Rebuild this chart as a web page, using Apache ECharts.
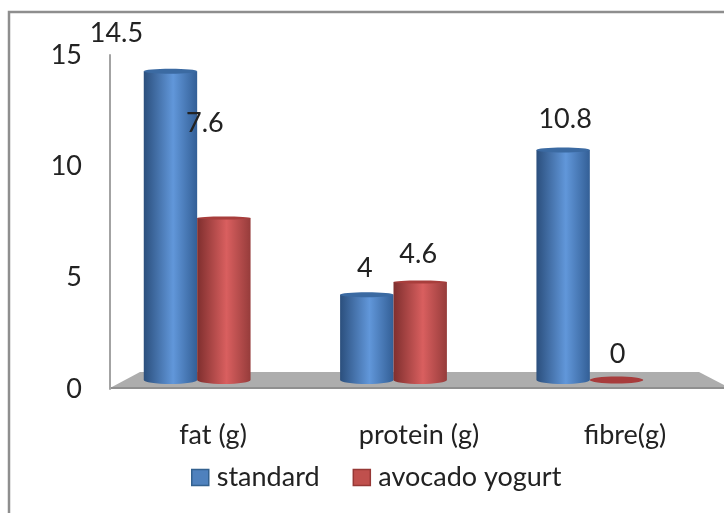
<!DOCTYPE html>
<html>
<head>
<meta charset="utf-8">
<style>html,body{margin:0;padding:0;background:#fff}#chart{width:724px;height:513px}</style>
<script src="https://cdn.jsdelivr.net/npm/echarts@6/dist/echarts.min.js"></script>
</head>
<body>
<div id="chart"></div>
<script>
var categories = ['fat (g)', 'protein (g)', 'fibre(g)'];
var yTicks = [0, 5, 10, 15];
var standard = [14.5, 4, 10.8];
var avocadoYogurt = [7.6, 4.6, 0];

// 数据标签在原图里是手动挪过的，这里只放偏移量
var standardNudge = [[-54, -38], [-2, -27], [2, -31]];
var avocadoNudge = [[-19, -95], [-2, -28], [1, -26]];

var FONT = 'Lato';
var myChart = echarts.init(document.getElementById('chart'));

function cylinder(values, side, edge, mid, edge2, cap, capRy, nudge) {
  return function (params, api) {
    var i = params.dataIndex;
    var v = values[i];
    var w = api.size([1, 0])[0] * 0.272;
    var top = api.coord([i, v]);
    var base = api.coord([i, 0]);
    var x = top[0] + side * w / 2 - w / 2;
    var children = [];
    var labelX = top[0] + side * w / 2 + nudge[i][0];
    var labelY = top[1] + nudge[i][1];
    if (v === 0) {
      children.push({
        type: 'ellipse',
        shape: {cx: x + w / 2, cy: base[1], rx: w / 2, ry: 3.5},
        style: {fill: '#a83c3c'}
      });
    } else {
      children.push({
        type: 'path',
        shape: {
          pathData: 'M0 0 L0 ' + (base[1] - top[1]) +
            ' A' + w / 2 + ' 4 0 0 0 ' + w + ' ' + (base[1] - top[1]) +
            ' L' + w + ' 0 Z',
          x: x, y: top[1], width: w, height: base[1] - top[1] + 4
        },
        style: {
          fill: new echarts.graphic.LinearGradient(0, 0, 1, 0, [
            {offset: 0, color: edge},
            {offset: 0.55, color: mid},
            {offset: 1, color: edge2}
          ])
        }
      });
      children.push({
        type: 'ellipse',
        shape: {cx: x + w / 2, cy: top[1], rx: w / 2, ry: capRy},
        style: {fill: cap}
      });
    }
    children.push({
      type: 'text',
      z2: 10,
      style: {
        x: labelX, y: labelY, text: String(v), align: 'center', verticalAlign: 'middle',
        fill: '#222', font: '27px "' + FONT + '"'
      }
    });
    return {type: 'group', children: children};
  };
}

var option = {
  backgroundColor: '#fff',
  animation: false,
  textStyle: {fontFamily: FONT},
  legend: {
    left: 186, top: 459,
    itemWidth: 17, itemHeight: 16, itemGap: 33,
    icon: 'rect',
    textStyle: {fontSize: 27, color: '#222', fontFamily: FONT, padding: [0, 0, 0, 3]},
    data: [
      {name: 'standard', itemStyle: {color: '#4f81bd', borderColor: '#33618f', borderWidth: 1.5}},
      {name: 'avocado yogurt', itemStyle: {color: '#c0504d', borderColor: '#963836', borderWidth: 1.5}}
    ]
  },
  grid: [
    // 坐标轴刻度用的网格
    {left: 110, right: -4, top: 55, bottom: 124, outerBoundsMode: 'none'},
    // 柱子用的网格，立体图里柱子的比例和刻度不一样
    {left: 99, right: 36, top: 60.5, bottom: 133, outerBoundsMode: 'none'}
  ],
  xAxis: [
    {
      gridIndex: 0, type: 'category', data: categories,
      axisLine: {show: false}, axisTick: {show: false},
      axisLabel: {margin: 33, fontSize: 27, color: '#222', fontFamily: FONT}
    },
    {gridIndex: 1, type: 'category', data: categories, show: false}
  ],
  yAxis: [
    {
      gridIndex: 0, type: 'value', min: 0, max: 15, interval: 5,
      splitLine: {show: false}, axisTick: {show: false},
      axisLine: {show: true, lineStyle: {color: '#a3a3a3', width: 2}},
      axisLabel: {
        margin: 28, fontSize: 27, color: '#222', fontFamily: FONT,
        formatter: function (v) { return yTicks.indexOf(v) >= 0 ? String(v) : ''; }
      }
    },
    {gridIndex: 1, type: 'value', min: 0, max: 15, show: false}
  ],
  // 底板和外框
  graphic: [
    {
      type: 'rect', z: -10,
      shape: {x: 9, y: 12, width: 730, height: 520},
      style: {fill: '#fff', stroke: '#8e8e8e', lineWidth: 2.5}
    },
    {
      type: 'polygon', z: -5,
      shape: {points: [[110, 388], [140, 372], [699, 372], [724, 385], [724, 388]]},
      style: {fill: '#adadad'}
    },
    {
      type: 'line', z: -4,
      shape: {x1: 110, y1: 388, x2: 724, y2: 388},
      style: {stroke: '#8f8f8f', lineWidth: 2}
    }
  ],
  series: [
    {
      name: 'standard', type: 'custom', xAxisIndex: 1, yAxisIndex: 1,
      itemStyle: {color: '#4f81bd'},
      renderItem: cylinder(standard, -1, '#2b4f7d', '#6197da', '#335f96', '#3b6aa2', 2.5, standardNudge),
      data: standard
    },
    {
      name: 'avocado yogurt', type: 'custom', xAxisIndex: 1, yAxisIndex: 1,
      itemStyle: {color: '#c0504d'},
      renderItem: cylinder(avocadoYogurt, 1, '#7f2f2e', '#d95f5f', '#963c3b', '#a83e3c', 1.5, avocadoNudge),
      data: avocadoYogurt
    }
  ]
};

myChart.setOption(option);
</script>
</body>
</html>
